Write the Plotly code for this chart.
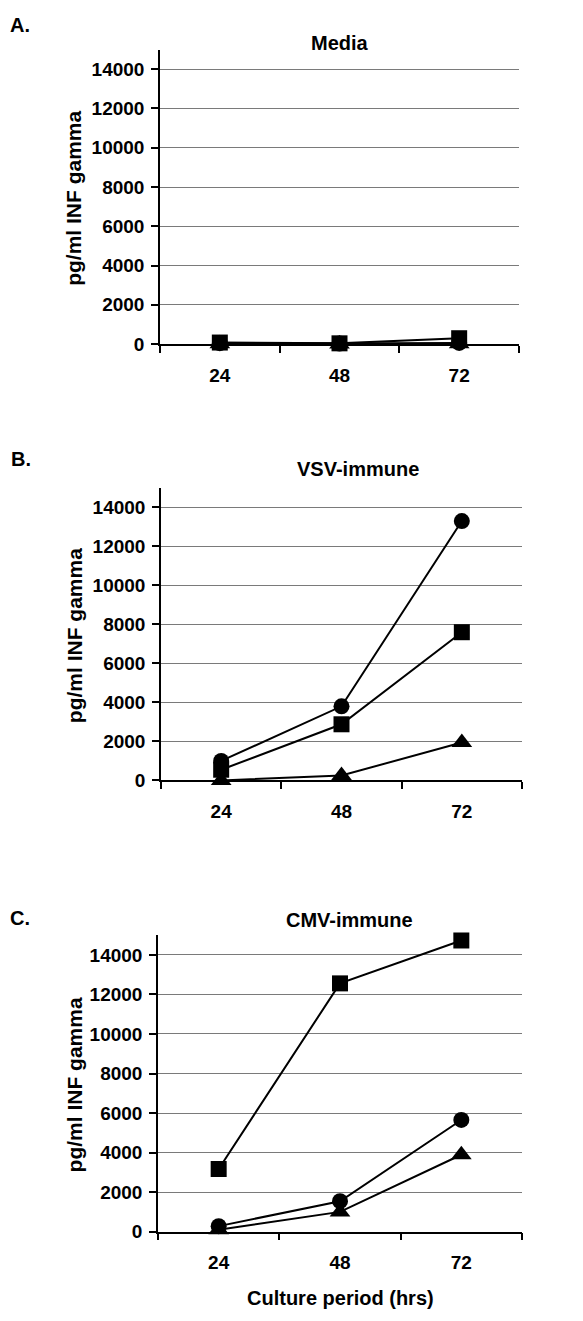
import plotly.graph_objects as go

W, H = 583, 1321

hours = ["24", "48", "72"]

# Panel A: Media
media_circle = [50, 30, 60]
media_square = [80, 40, 300]
media_triangle = [20, 10, 20]

# Panel B: VSV-immune
vsv_circle = [1000, 3800, 13300]
vsv_square = [550, 2880, 7600]
vsv_triangle = [0, 250, 1950]

# Panel C: CMV-immune
cmv_circle = [280, 1540, 5650]
cmv_square = [3170, 12560, 14730]
cmv_triangle = [100, 1000, 3890]

panel_titles = ["Media", "VSV-immune", "CMV-immune"]
panel_letters = ["A.", "B.", "C."]
y_title = "pg/ml INF gamma"
x_title = "Culture period (hrs)"
y_ticks = [0, 2000, 4000, 6000, 8000, 10000, 12000, 14000]
y_ticktext = ["0", "2000", "4000", "6000", "8000", "10000", "12000", "14000"]

FONT = "Liberation Sans, Arial, sans-serif"

def px_x(p):
    return p / W

def px_y(p):
    return 1 - p / H

# pixel geometry of each panel: (left, right, top, bottom)
geo = [(160, 519, 50, 347), (161, 522, 492, 787), (158, 522, 943, 1242)]
title_pos = [(340, 43), (358, 473), (349, 928)]
letter_pos = [(20, 25), (21, 463), (20, 926)]

data = [
    (media_circle, media_square, media_triangle),
    (vsv_circle, vsv_square, vsv_triangle),
    (cmv_circle, cmv_square, cmv_triangle),
]

marker_sizes = {"triangle-up": 18, "square": 16, "circle": 16}

fig = go.Figure()
annotations = []
layout = {}

for i, (circ, sq, tri) in enumerate(data):
    n = "" if i == 0 else str(i + 1)
    xa, ya = "x" + n, "y" + n
    l, r, t, b = geo[i]
    for vals, sym in ((tri, "triangle-up"), (sq, "square"), (circ, "circle")):
        fig.add_trace(go.Scatter(
            x=hours, y=vals, xaxis=xa, yaxis=ya, mode="lines+markers",
            line=dict(color="black", width=2),
            marker=dict(symbol=sym, size=marker_sizes[sym],
                        color="black", line=dict(width=0)),
            showlegend=False, cliponaxis=False,
        ))
    layout["xaxis" + n] = dict(
        domain=[px_x(l), px_x(r)], anchor=ya, type="category",
        range=[-0.5, 2.5], showline=True, linecolor="black", linewidth=1.5,
        ticks="outside", ticklen=7, tickcolor="black", tickwidth=1.5,
        tickson="boundaries", showgrid=False, zeroline=False,
        tickfont=dict(family=FONT, size=19, color="black", weight="bold"),
        ticklabelstandoff=13,
    )
    layout["yaxis" + n] = dict(
        domain=[px_y(b), px_y(t)], anchor=xa, range=[0, 15000],
        tickvals=y_ticks, ticktext=y_ticktext,
        showline=True, linecolor="black", linewidth=1.5,
        ticks="outside", ticklen=7, tickcolor="black", tickwidth=1.5,
        showgrid=True, gridcolor="#7a7a7a", gridwidth=1, zeroline=False,
        tickfont=dict(family=FONT, size=19, color="black", weight="bold"),
        ticklabelstandoff=3,
    )
    tx, ty = title_pos[i]
    annotations.append(dict(
        text=panel_titles[i], x=px_x(tx), y=px_y(ty), xref="paper", yref="paper",
        showarrow=False, xanchor="center", yanchor="middle",
        font=dict(family=FONT, size=20, color="black", weight="bold")))
    lx, ly = letter_pos[i]
    annotations.append(dict(
        text=panel_letters[i], x=px_x(lx), y=px_y(ly), xref="paper", yref="paper",
        showarrow=False, xanchor="center", yanchor="middle",
        font=dict(family=FONT, size=20, color="black", weight="bold")))
    annotations.append(dict(
        text=y_title, x=px_x(74), y=px_y((t + b) / 2 + 2), xref="paper", yref="paper",
        showarrow=False, xanchor="center", yanchor="middle", textangle=-90,
        font=dict(family=FONT, size=21, color="black", weight="bold")))

annotations.append(dict(
    text=x_title, x=px_x(340), y=px_y(1309), xref="paper", yref="paper",
    showarrow=False, xanchor="center", yanchor="middle",
    font=dict(family=FONT, size=20, color="black", weight="bold")))

fig.update_layout(
    width=W, height=H, margin=dict(l=0, r=0, t=0, b=0),
    paper_bgcolor="white", plot_bgcolor="white",
    annotations=annotations, **layout,
)

fig.write_html("out.html")
